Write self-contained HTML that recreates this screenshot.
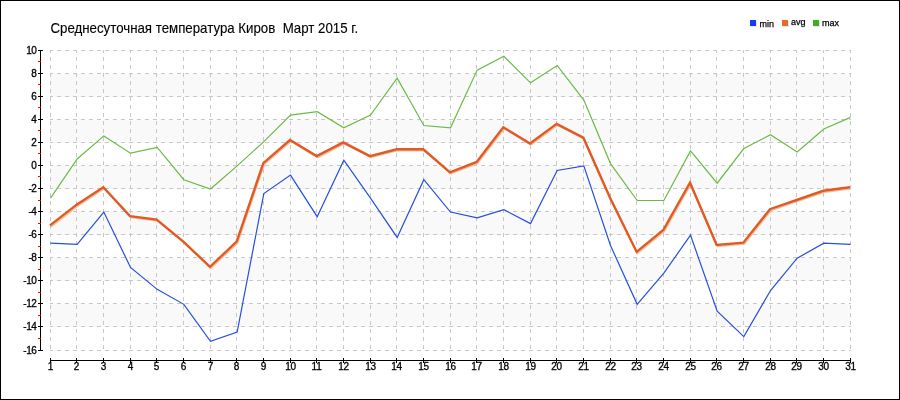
<!DOCTYPE html>
<html><head><meta charset="utf-8"><style>html,body{margin:0;padding:0;-webkit-font-smoothing:antialiased;background:#fff;width:900px;height:400px;overflow:hidden}</style></head>
<body><svg width="900" height="400" viewBox="0 0 900 400" style="display:block;will-change:transform">
<rect x="0" y="0" width="900" height="400" fill="#fff"/>
<rect x="50" y="74" width="800" height="23" fill="#f9f9f9"/>
<rect x="50" y="120" width="800" height="23" fill="#f9f9f9"/>
<rect x="50" y="166" width="800" height="23" fill="#f9f9f9"/>
<rect x="50" y="212" width="800" height="23" fill="#f9f9f9"/>
<rect x="50" y="258" width="800" height="23" fill="#f9f9f9"/>
<rect x="50" y="304" width="800" height="23" fill="#f9f9f9"/>
<path d="M50 50.5H851 M50 73.5H851 M50 96.5H851 M50 119.5H851 M50 142.5H851 M50 165.5H851 M50 188.5H851 M50 211.5H851 M50 234.5H851 M50 257.5H851 M50 280.5H851 M50 303.5H851 M50 326.5H851 M50 350.5H851 M50.5 50V351 M76.5 50V351 M103.5 50V351 M130.5 50V351 M156.5 50V351 M183.5 50V351 M210.5 50V351 M236.5 50V351 M263.5 50V351 M290.5 50V351 M316.5 50V351 M343.5 50V351 M370.5 50V351 M396.5 50V351 M423.5 50V351 M450.5 50V351 M476.5 50V351 M503.5 50V351 M530.5 50V351 M556.5 50V351 M583.5 50V351 M610.5 50V351 M636.5 50V351 M663.5 50V351 M690.5 50V351 M716.5 50V351 M743.5 50V351 M770.5 50V351 M796.5 50V351 M823.5 50V351 M850.5 50V351" stroke="#c8c8c8" stroke-width="1" stroke-dasharray="4 4" stroke-dashoffset="1" fill="none"/>
<path d="M40.5 50V351" stroke="#000" stroke-width="1"/>
<path d="M38 50.5H43 M38 73.5H43 M38 96.5H43 M38 119.5H43 M38 142.5H43 M38 165.5H43 M38 188.5H43 M38 211.5H43 M38 234.5H43 M38 257.5H43 M38 280.5H43 M38 303.5H43 M38 326.5H43 M38 350.5H43" stroke="#000" stroke-width="1"/>
<path d="M38 61.5H41 M38 84.5H41 M38 107.5H41 M38 130.5H41 M38 153.5H41 M38 176.5H41 M38 200.5H41 M38 223.5H41 M38 246.5H41 M38 269.5H41 M38 292.5H41 M38 315.5H41 M38 338.5H41" stroke="#f00" stroke-width="1"/>
<path d="M50 360.5H851" stroke="#000" stroke-width="1"/>
<path d="M50.5 358V363 M76.5 358V363 M103.5 358V363 M130.5 358V363 M156.5 358V363 M183.5 358V363 M210.5 358V363 M236.5 358V363 M263.5 358V363 M290.5 358V363 M316.5 358V363 M343.5 358V363 M370.5 358V363 M396.5 358V363 M423.5 358V363 M450.5 358V363 M476.5 358V363 M503.5 358V363 M530.5 358V363 M556.5 358V363 M583.5 358V363 M610.5 358V363 M636.5 358V363 M663.5 358V363 M690.5 358V363 M716.5 358V363 M743.5 358V363 M770.5 358V363 M796.5 358V363 M823.5 358V363 M850.5 358V363" stroke="#000" stroke-width="1"/>
<g font-family="Liberation Sans, sans-serif" font-size="10" fill="#000" stroke="#000" stroke-width="0.3">
<text x="36.5" y="53.5" text-anchor="end" letter-spacing="-0.4">10</text>
<text x="36.5" y="76.5" text-anchor="end" letter-spacing="-0.4">8</text>
<text x="36.5" y="99.5" text-anchor="end" letter-spacing="-0.4">6</text>
<text x="36.5" y="122.5" text-anchor="end" letter-spacing="-0.4">4</text>
<text x="36.5" y="145.5" text-anchor="end" letter-spacing="-0.4">2</text>
<text x="36.5" y="168.5" text-anchor="end" letter-spacing="-0.4">0</text>
<text x="36.5" y="191.5" text-anchor="end" letter-spacing="-0.4">-2</text>
<text x="36.5" y="214.5" text-anchor="end" letter-spacing="-0.4">-4</text>
<text x="36.5" y="237.5" text-anchor="end" letter-spacing="-0.4">-6</text>
<text x="36.5" y="260.5" text-anchor="end" letter-spacing="-0.4">-8</text>
<text x="36.5" y="283.5" text-anchor="end" letter-spacing="-0.4">-10</text>
<text x="36.5" y="306.5" text-anchor="end" letter-spacing="-0.4">-12</text>
<text x="36.5" y="329.5" text-anchor="end" letter-spacing="-0.4">-14</text>
<text x="36.5" y="353.5" text-anchor="end" letter-spacing="-0.4">-16</text>
<text x="50.5" y="370" text-anchor="middle" letter-spacing="-0.3">1</text>
<text x="76.5" y="370" text-anchor="middle" letter-spacing="-0.3">2</text>
<text x="103.5" y="370" text-anchor="middle" letter-spacing="-0.3">3</text>
<text x="130.5" y="370" text-anchor="middle" letter-spacing="-0.3">4</text>
<text x="156.5" y="370" text-anchor="middle" letter-spacing="-0.3">5</text>
<text x="183.5" y="370" text-anchor="middle" letter-spacing="-0.3">6</text>
<text x="210.5" y="370" text-anchor="middle" letter-spacing="-0.3">7</text>
<text x="236.5" y="370" text-anchor="middle" letter-spacing="-0.3">8</text>
<text x="263.5" y="370" text-anchor="middle" letter-spacing="-0.3">9</text>
<text x="290.5" y="370" text-anchor="middle" letter-spacing="-0.3">10</text>
<text x="316.5" y="370" text-anchor="middle" letter-spacing="-0.3">11</text>
<text x="343.5" y="370" text-anchor="middle" letter-spacing="-0.3">12</text>
<text x="370.5" y="370" text-anchor="middle" letter-spacing="-0.3">13</text>
<text x="396.5" y="370" text-anchor="middle" letter-spacing="-0.3">14</text>
<text x="423.5" y="370" text-anchor="middle" letter-spacing="-0.3">15</text>
<text x="450.5" y="370" text-anchor="middle" letter-spacing="-0.3">16</text>
<text x="476.5" y="370" text-anchor="middle" letter-spacing="-0.3">17</text>
<text x="503.5" y="370" text-anchor="middle" letter-spacing="-0.3">18</text>
<text x="530.5" y="370" text-anchor="middle" letter-spacing="-0.3">19</text>
<text x="556.5" y="370" text-anchor="middle" letter-spacing="-0.3">20</text>
<text x="583.5" y="370" text-anchor="middle" letter-spacing="-0.3">21</text>
<text x="610.5" y="370" text-anchor="middle" letter-spacing="-0.3">22</text>
<text x="636.5" y="370" text-anchor="middle" letter-spacing="-0.3">23</text>
<text x="663.5" y="370" text-anchor="middle" letter-spacing="-0.3">24</text>
<text x="690.5" y="370" text-anchor="middle" letter-spacing="-0.3">25</text>
<text x="716.5" y="370" text-anchor="middle" letter-spacing="-0.3">26</text>
<text x="743.5" y="370" text-anchor="middle" letter-spacing="-0.3">27</text>
<text x="770.5" y="370" text-anchor="middle" letter-spacing="-0.3">28</text>
<text x="796.5" y="370" text-anchor="middle" letter-spacing="-0.3">29</text>
<text x="823.5" y="370" text-anchor="middle" letter-spacing="-0.3">30</text>
<text x="850.5" y="370" text-anchor="middle" letter-spacing="-0.3">31</text>
</g>
<polyline points="50.50,198.19 77.17,158.96 103.83,135.88 130.50,153.19 157.17,147.42 183.83,179.73 210.50,188.96 237.17,165.88 263.83,141.65 290.50,115.12 317.17,111.65 343.83,127.81 370.50,115.12 397.17,78.19 423.83,125.50 450.50,127.81 477.17,70.12 503.83,56.27 530.50,82.81 557.17,65.50 583.83,100.12 610.50,163.58 637.17,200.50 663.83,200.50 690.50,150.88 717.17,183.19 743.83,148.58 770.50,134.73 797.17,152.04 823.83,128.96 850.50,117.42" fill="none" stroke="#6abb46" stroke-width="1.2" stroke-linejoin="miter"/>
<polyline points="50.50,243.19 77.17,244.35 103.83,212.04 130.50,267.42 157.17,289.35 183.83,304.35 210.50,341.27 237.17,332.04 263.83,193.58 290.50,175.12 317.17,216.65 343.83,160.12 370.50,198.19 397.17,237.42 423.83,179.73 450.50,212.04 477.17,217.81 503.83,209.73 530.50,223.58 557.17,170.50 583.83,165.88 610.50,245.50 637.17,304.35 663.83,273.19 690.50,235.12 717.17,311.27 743.83,336.65 770.50,290.50 797.17,258.19 823.83,243.19 850.50,244.35" fill="none" stroke="#2550dd" stroke-width="1.2" stroke-linejoin="miter"/>
<polyline points="51.00,226.88 77.67,206.12 104.33,188.81 131.00,217.65 157.67,221.12 184.33,243.04 211.00,268.42 237.67,243.04 264.33,164.58 291.00,141.50 317.67,157.65 344.33,143.81 371.00,157.65 397.67,150.73 424.33,150.73 451.00,173.81 477.67,163.42 504.33,128.81 531.00,144.96 557.67,125.35 584.33,139.19 611.00,199.19 637.67,253.42 664.33,231.50 691.00,184.19 717.67,246.50 744.33,244.19 771.00,210.73 797.67,201.50 824.33,192.27 851.00,188.81" fill="none" stroke="#f4bc98" stroke-width="1.3"/>
<polyline points="50.00,225.38 76.67,204.62 103.33,187.31 130.00,216.15 156.67,219.62 183.33,241.54 210.00,266.92 236.67,241.54 263.33,163.08 290.00,140.00 316.67,156.15 343.33,142.31 370.00,156.15 396.67,149.23 423.33,149.23 450.00,172.31 476.67,161.92 503.33,127.31 530.00,143.46 556.67,123.85 583.33,137.69 610.00,197.69 636.67,251.92 663.33,230.00 690.00,182.69 716.67,245.00 743.33,242.69 770.00,209.23 796.67,200.00 823.33,190.77 850.00,187.31" fill="none" stroke="#df5a24" stroke-width="2.4" stroke-linejoin="miter"/>
<text transform="translate(50.5,33) scale(0.949,1)" x="0" y="0" font-family="Liberation Sans, sans-serif" font-size="14" fill="#000" stroke="#000" stroke-width="0.12" xml:space="preserve">Среднесуточная температура Киров  Март 2015 г.</text>
<rect x="751" y="21" width="6" height="6" fill="#e6e6de"/>
<rect x="750" y="20" width="6" height="6" fill="#1a3af0"/>
<rect x="783" y="21" width="6" height="6" fill="#e6e6de"/>
<rect x="782" y="20" width="6" height="6" fill="#e8692c"/>
<rect x="814" y="21" width="6" height="6" fill="#e6e6de"/>
<rect x="813" y="20" width="6" height="6" fill="#3cb01e"/>
<g font-family="Liberation Sans, sans-serif" font-size="9" fill="#000" stroke="#000" stroke-width="0.25">
<text x="759.5" y="27">min</text>
<text x="791" y="25">avg</text>
<text x="822" y="26">max</text>
</g>
<rect x="0.5" y="0.5" width="899" height="399" fill="none" stroke="#000" stroke-width="1"/>
</svg></body></html>
